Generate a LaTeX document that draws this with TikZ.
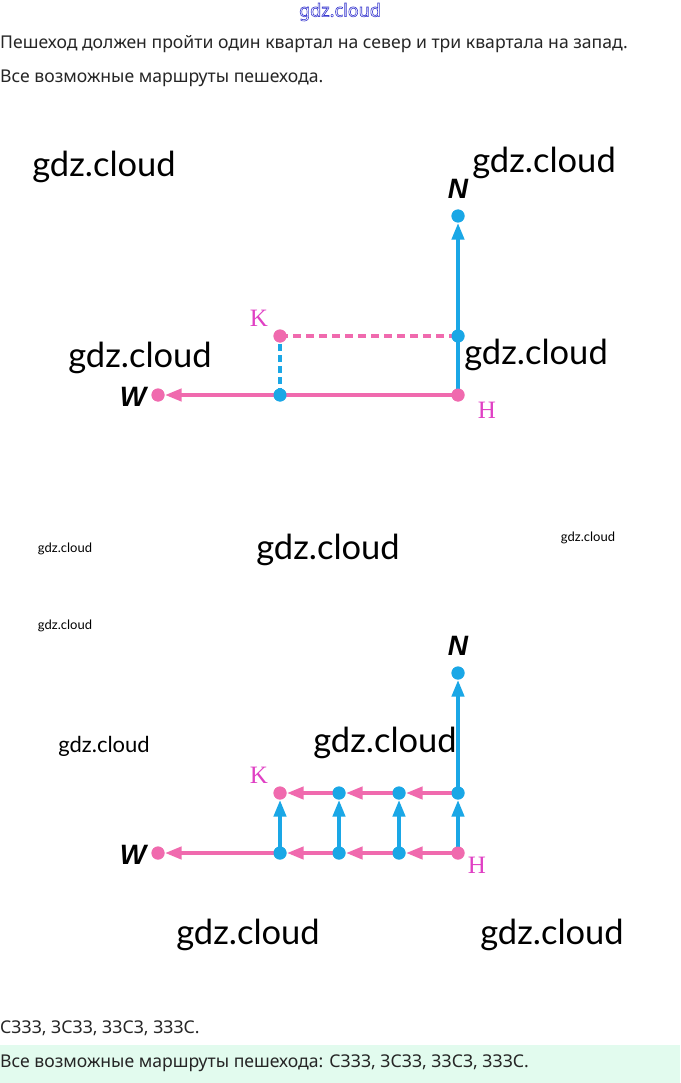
\documentclass[tikz,border=0pt]{standalone}
\usepackage{fontspec}
\setmainfont{Noto Sans}
\newfontfamily\wmfont{Lato}
\newfontfamily\lblfont{Liberation Serif}
\newfontfamily\dirfont{Liberation Sans}
\usetikzlibrary{arrows.meta}
\definecolor{pinkc}{HTML}{F06AAE}
\definecolor{bluec}{HTML}{1AA7E6}
\definecolor{magc}{HTML}{E040C4}
\definecolor{txtc}{HTML}{262626}
\definecolor{greenbg}{HTML}{E2FBEE}
\definecolor{wmblue}{HTML}{3A3AD0}
\tikzset{
  pdot/.style={circle,fill=pinkc,inner sep=0pt,minimum size=13pt},
  bdot/.style={circle,fill=bluec,inner sep=0pt,minimum size=13pt},
  pline/.style={draw=pinkc,line width=4.2pt},
  bline/.style={draw=bluec,line width=4.2pt},
  arr/.style={-{Triangle[length=17pt,width=12pt]}},
  wm/.style={font=\wmfont\fontsize{34.5}{40}\selectfont,text=black,inner sep=0pt},
  wmm/.style={font=\wmfont\fontsize{22}{26}\selectfont,text=black,inner sep=0pt},
  wms/.style={font=\wmfont\fontsize{13}{15}\selectfont,text=black,inner sep=0pt},
  lbl/.style={font=\lblfont\fontsize{25}{28}\selectfont,text=magc,inner sep=0pt},
  dirl/.style={font=\dirfont\bfseries\itshape\fontsize{28}{32}\selectfont,text=black,inner sep=0pt},
  body/.style={font=\fontsize{17.6}{21}\selectfont,text=txtc,inner sep=0pt,anchor=west},
}
\begin{document}
\begin{tikzpicture}[x=1pt,y=-1pt]
\useasboundingbox (0,0) rectangle (680,1083);
\fill[white] (0,0) rectangle (680,1083);
\fill[greenbg] (0,1045) rectangle (680,1083);

% header
\node[inner sep=0pt,text=wmblue,font=\fontsize{18}{20}\selectfont] (hdr) at (340,12) {\special{pdf:code 1 Tr 0.6 w}gdz.cloud\special{pdf:code 0 Tr}};
\node[body] (t1) at (0,44) {Пешеход должен пройти один квартал на север и три квартала на запад.};
\node[body] (t2) at (0,78) {Все возможные маршруты пешехода.};

% ---------- diagram 1 ----------
\node[pdot] (aH) at (458,395) {};
\node[bdot] (aN) at (458,216) {};
\node[bdot] (aM) at (458,336) {};
\node[pdot] (aK) at (280,336) {};
\node[bdot] (aB) at (280,395) {};
\node[pdot] (aW) at (158,395) {};
\draw[bline,arr] (aH.center) -- (aN);
\draw[pline,dash pattern=on 8pt off 5pt] (aK.center) -- (aM.center);
\draw[bline,dash pattern=on 7pt off 4pt] (aB.center) -- (aK.center);
\draw[pline,arr] (aH.center) -- (aW);
\node[pdot] at (aH) {};
\node[bdot] at (aN) {};
\node[bdot] at (aM) {};
\node[pdot] at (aK) {};
\node[bdot] at (aB) {};
\node[pdot] at (aW) {};
\node[dirl] (aNl) at (458,189) {N};
\node[dirl] (aWl) at (133,397) {W};
\node[lbl] (aKl) at (259,318) {K};
\node[lbl] (aHl) at (487,410) {H};

% ---------- diagram 2 ----------
\node[pdot] (bH) at (458,853) {};
\node[bdot] (b3) at (399,853) {};
\node[bdot] (b2) at (339,853) {};
\node[bdot] (b1) at (280,853) {};
\node[pdot] (bW) at (158,853) {};
\node[bdot] (c4) at (458,793) {};
\node[bdot] (c3) at (399,793) {};
\node[bdot] (c2) at (339,793) {};
\node[pdot] (bK) at (280,793) {};
\node[bdot] (bN) at (458,673) {};
\draw[bline,arr] (bH.center) -- (c4);
\draw[bline,arr] (c4.center) -- (bN);
\draw[bline,arr] (b3.center) -- (c3);
\draw[bline,arr] (b2.center) -- (c2);
\draw[bline,arr] (b1.center) -- (bK);
\draw[pline,arr] (bH.center) -- (b3);
\draw[pline,arr] (b3.center) -- (b2);
\draw[pline,arr] (b2.center) -- (b1);
\draw[pline,arr] (b1.center) -- (bW);
\draw[pline,arr] (c4.center) -- (c3);
\draw[pline,arr] (c3.center) -- (c2);
\draw[pline,arr] (c2.center) -- (bK);
\foreach \n in {b3,b2,b1,c4,c3,c2,bN} {\node[bdot] at (\n) {};}
\foreach \n in {bH,bW,bK} {\node[pdot] at (\n) {};}
\node[dirl] (bNl) at (458,646) {N};
\node[dirl] (bWl) at (133,855) {W};
\node[lbl] (bKl) at (259,775) {K};
\node[lbl] (bHl) at (477,865) {H};

% watermarks
\node[wm] (w1) at (104,167) {gdz.cloud};
\node[wm] (w2) at (544,163) {gdz.cloud};
\node[wm] (w3) at (140,358) {gdz.cloud};
\node[wm] (w4) at (536,355) {gdz.cloud};
\node[wm] (w5) at (328,550) {gdz.cloud};
\node[wms] (w6) at (65,549) {gdz.cloud};
\node[wms] (w7) at (588,538) {gdz.cloud};
\node[wms] (w8) at (65,626) {gdz.cloud};
\node[wmm] (w9) at (104,746) {gdz.cloud};
\node[wm] (w10) at (385,743) {gdz.cloud};
\node[wm] (w11) at (248,935) {gdz.cloud};
\node[wm] (w12) at (552,935) {gdz.cloud};

% bottom
\node[body] (t3) at (0,1028) {СЗЗЗ, ЗСЗЗ, ЗЗСЗ, ЗЗЗС.};
\node[body] (t4) at (0,1063) {Все возможные маршруты пешехода: СЗЗЗ, ЗСЗЗ, ЗЗСЗ, ЗЗЗС.};
\end{tikzpicture}
\end{document}
